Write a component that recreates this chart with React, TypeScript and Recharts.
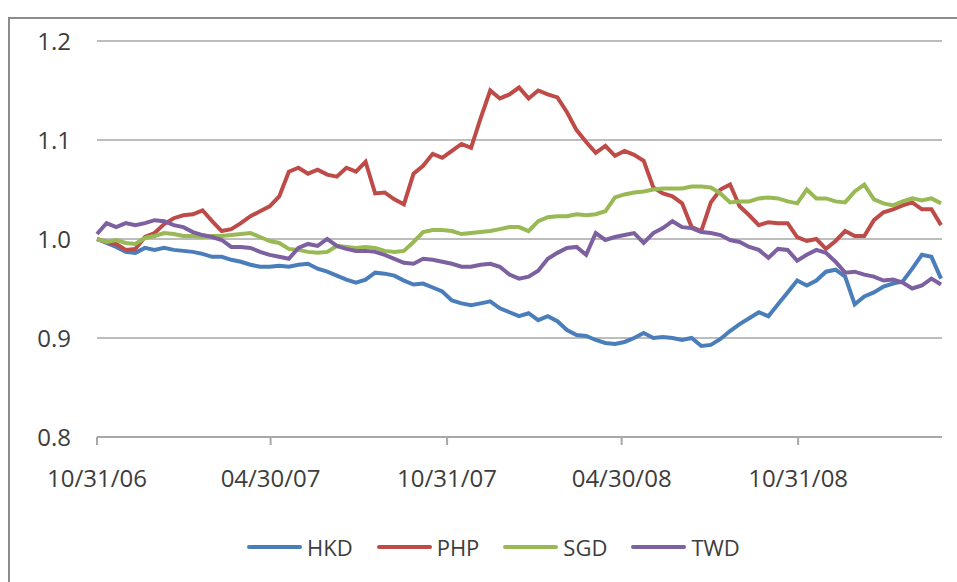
// Four Asian currencies indexed to 1.0 on 10/31/06, Excel-style line chart.
import { CartesianGrid, Line, LineChart, XAxis, YAxis } from 'recharts';

// days since 10/31/06
const dayOffsets = [
  0, 10, 20, 30, 40, 50, 60, 70, 80, 90,
  100, 110, 120, 130, 140, 150, 160, 170, 180, 190,
  200, 210, 220, 230, 240, 250, 260, 270, 280, 290,
  300, 310, 320, 330, 340, 350, 360, 370, 380, 390,
  400, 410, 420, 430, 440, 450, 460, 470, 480, 490,
  500, 510, 520, 530, 540, 550, 560, 570, 580, 590,
  600, 610, 620, 630, 640, 650, 660, 670, 680, 690,
  700, 710, 720, 730, 740, 750, 760, 770, 780, 790,
  800, 810, 820, 830, 840, 850, 860, 870, 880,
];

const hkd = [
  1.000, 0.996, 0.992, 0.987, 0.986, 0.991, 0.989, 0.991, 0.989, 0.988,
  0.987, 0.985, 0.982, 0.982, 0.979, 0.977, 0.974, 0.972, 0.972, 0.973,
  0.972, 0.974, 0.975, 0.970, 0.967, 0.963, 0.959, 0.956, 0.959, 0.966,
  0.965, 0.963, 0.958, 0.954, 0.955, 0.951, 0.947, 0.938, 0.935, 0.933,
  0.935, 0.937, 0.930, 0.926, 0.922, 0.925, 0.918, 0.922, 0.917, 0.908,
  0.903, 0.902, 0.898, 0.895, 0.894, 0.896, 0.900, 0.905, 0.900, 0.901,
  0.900, 0.898, 0.900, 0.892, 0.893, 0.899, 0.907, 0.914, 0.920, 0.926,
  0.922, 0.934, 0.946, 0.958, 0.953, 0.958, 0.967, 0.969, 0.962, 0.934,
  0.942, 0.946, 0.952, 0.955, 0.957, 0.970, 0.984, 0.982, 0.960,
];

const php = [
  1.000, 0.997, 0.995, 0.989, 0.990, 1.002, 1.006, 1.015, 1.021, 1.024,
  1.025, 1.029, 1.018, 1.008, 1.010, 1.016, 1.023, 1.028, 1.033, 1.043,
  1.068, 1.072, 1.066, 1.070, 1.065, 1.063, 1.072, 1.068, 1.078, 1.046,
  1.047, 1.040, 1.035, 1.066, 1.074, 1.086, 1.082, 1.089, 1.096, 1.092,
  1.122, 1.150, 1.142, 1.146, 1.153, 1.142, 1.150, 1.146, 1.143, 1.128,
  1.110, 1.098, 1.087, 1.094, 1.084, 1.089, 1.085, 1.079, 1.052, 1.046,
  1.043, 1.036, 1.012, 1.008, 1.037, 1.050, 1.055, 1.033, 1.024, 1.014,
  1.017, 1.016, 1.016, 1.002, 0.998, 1.000, 0.990, 0.998, 1.008, 1.003,
  1.003, 1.019, 1.027, 1.030, 1.034, 1.037, 1.030, 1.030, 1.014,
];

const sgd = [
  1.000, 0.997, 0.999, 0.996, 0.995, 1.001, 1.003, 1.006, 1.005, 1.003,
  1.003, 1.002, 1.003, 1.003, 1.004, 1.005, 1.006, 1.002, 0.998, 0.996,
  0.990, 0.989, 0.987, 0.986, 0.987, 0.993, 0.992, 0.991, 0.992, 0.991,
  0.988, 0.987, 0.988, 0.997, 1.007, 1.009, 1.009, 1.008, 1.005, 1.006,
  1.007, 1.008, 1.010, 1.012, 1.012, 1.008, 1.018, 1.022, 1.023, 1.023,
  1.025, 1.024, 1.025, 1.028, 1.042, 1.045, 1.047, 1.048, 1.050, 1.051,
  1.051, 1.051, 1.053, 1.053, 1.052, 1.046, 1.037, 1.038, 1.038, 1.041,
  1.042, 1.041, 1.038, 1.036, 1.050, 1.041, 1.041, 1.038, 1.037, 1.048,
  1.055, 1.040, 1.036, 1.034, 1.038, 1.041, 1.039, 1.041, 1.036,
];

const twd = [
  1.005, 1.016, 1.012, 1.016, 1.014, 1.016, 1.019, 1.018, 1.014, 1.012,
  1.007, 1.004, 1.002, 0.999, 0.992, 0.992, 0.991, 0.987, 0.984, 0.982,
  0.980, 0.991, 0.995, 0.993, 1.000, 0.993, 0.990, 0.988, 0.988, 0.987,
  0.984, 0.980, 0.976, 0.975, 0.980, 0.979, 0.977, 0.975, 0.972, 0.972,
  0.974, 0.975, 0.972, 0.964, 0.960, 0.962, 0.968, 0.980, 0.986, 0.991,
  0.992, 0.984, 1.006, 0.999, 1.002, 1.004, 1.006, 0.996, 1.006, 1.011,
  1.018, 1.012, 1.011, 1.007, 1.006, 1.004, 0.999, 0.997, 0.992, 0.989,
  0.981, 0.990, 0.989, 0.978, 0.984, 0.989, 0.986, 0.977, 0.966, 0.967,
  0.964, 0.962, 0.958, 0.959, 0.956, 0.950, 0.953, 0.960, 0.954,
];

const tickDays = [0, 181, 365, 547, 731];
const tickLabels = ['10/31/06', '04/30/07', '10/31/07', '04/30/08', '10/31/08'];
const yTicks = [0.8, 0.9, 1.0, 1.1, 1.2];

const series = [
  { key: 'HKD', color: '#4a7ebb' },
  { key: 'PHP', color: '#be4b48' },
  { key: 'SGD', color: '#98b954' },
  { key: 'TWD', color: '#7d60a0' },
];

const rows = dayOffsets.map((day, i) => ({ day, HKD: hkd[i], PHP: php[i], SGD: sgd[i], TWD: twd[i] }));

const font = '"Open Sans", sans-serif';
const textColor = '#3d3d3d';

export default function App() {
  return (
    <div style={{ position: 'fixed', left: 0, top: 0, width: 957, height: 582, background: '#fff', fontFamily: font, overflow: 'hidden' }}>
      <div style={{ position: 'absolute', left: 8, top: 17, right: 0, bottom: 0, borderLeft: '2px solid #8c8c8c', borderTop: '2px solid #8c8c8c' }} />
      <div style={{ position: 'absolute', left: 0, top: 0 }}>
        {/* x axis keeps its default 30px height, so the bottom margin is 145 - 30 */}
        <LineChart width={957} height={582} data={rows} margin={{ top: 41, right: 15, bottom: 115, left: 0 }}>
          <CartesianGrid stroke="#bdbdbd" strokeWidth={2} vertical={false} />
          <XAxis
            dataKey="day" type="number" domain={[0, 881]} ticks={tickDays}
            tickFormatter={(d) => tickLabels[tickDays.indexOf(d)] ?? ''}
            stroke="#a8a8a8" strokeWidth={2} tickSize={8} tickMargin={25}
            tick={{ fill: textColor, fontSize: 24, fontFamily: font }}
          />
          <YAxis
            domain={[0.8, 1.2]} ticks={yTicks} tickFormatter={(v) => v.toFixed(1)} width={97}
            axisLine={false} tickLine={false} tickSize={0} tickMargin={26}
            tick={{ fill: textColor, fontSize: 24, fontFamily: font }}
          />
          {series.map((s) => (
            <Line key={s.key} type="linear" dataKey={s.key} name={s.key} stroke={s.color} strokeWidth={4} dot={false} isAnimationActive={false} />
          ))}
        </LineChart>
      </div>
      <div style={{ position: 'absolute', left: 247, top: 532, display: 'flex', alignItems: 'center', gap: 24, fontSize: 22, color: textColor }}>
        {series.map((s) => (
          <span key={s.key} style={{ display: 'flex', alignItems: 'center', gap: 5 }}>
            <span style={{ width: 55, height: 4, borderRadius: 2, background: s.color, display: 'inline-block' }} />
            {s.key}
          </span>
        ))}
      </div>
    </div>
  );
}
